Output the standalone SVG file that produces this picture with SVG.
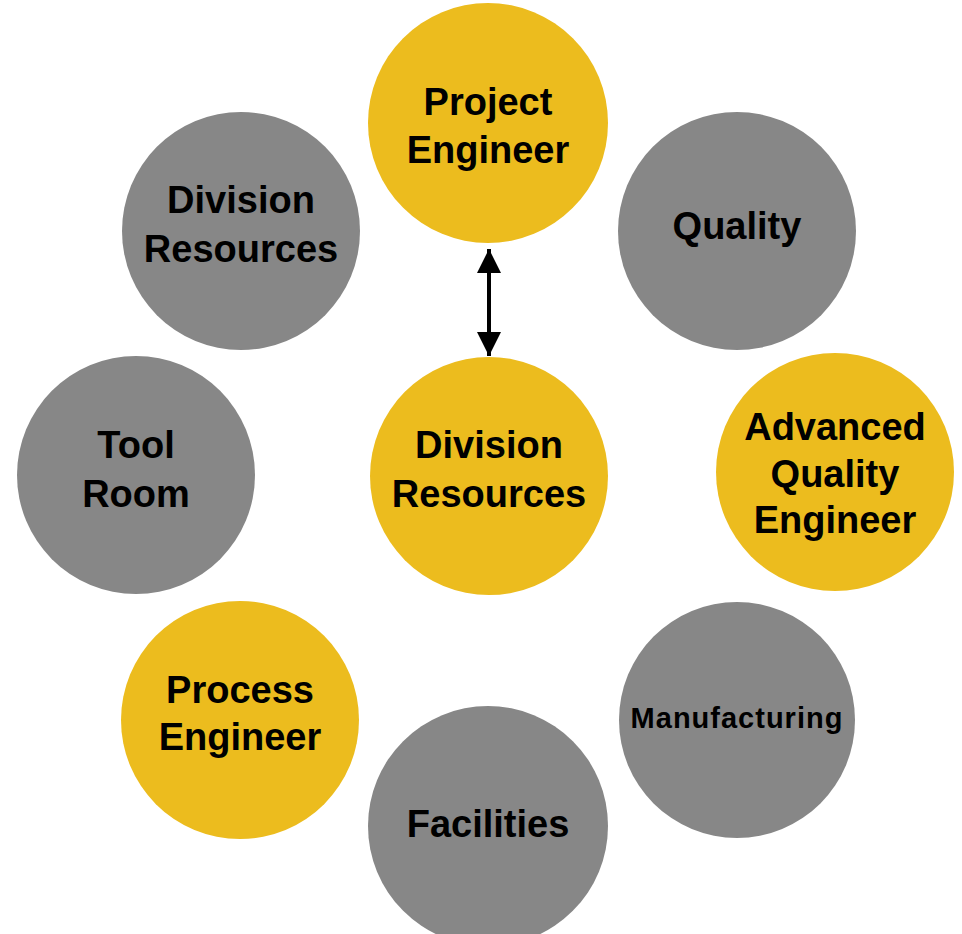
<svg xmlns="http://www.w3.org/2000/svg" width="962" height="934" viewBox="0 0 962 934">
<style>
.y{fill:#ECBC1E}
.g{fill:#878787}
text{font-family:"Liberation Sans",Arial,Helvetica,sans-serif;font-weight:bold;font-size:38px;fill:#000;text-anchor:middle}
.sm{font-size:29px;letter-spacing:1px}
</style>
<defs>
<marker id="ah" viewBox="0 0 10 10" refX="10" refY="5" markerWidth="6" markerHeight="6" markerUnits="strokeWidth" orient="auto-start-reverse">
<path d="M0,0 L10,5 L0,10 Z" fill="#000"/>
</marker>
</defs>
<rect width="962" height="934" fill="#fff"/>
<g id="project-engineer"><circle class="y" cx="488" cy="123" r="120"/><text x="488" y="115">Project</text><text x="488" y="163">Engineer</text></g>
<g id="quality"><circle class="g" cx="737" cy="231" r="119"/><text x="737" y="239">Quality</text></g>
<g id="division-resources-gray"><circle class="g" cx="241" cy="231" r="119"/><text x="241" y="213">Division</text><text x="241" y="262">Resources</text></g>
<g id="tool-room"><circle class="g" cx="136" cy="475" r="119"/><text x="136" y="458">Tool</text><text x="136" y="507">Room</text></g>
<g id="division-resources"><circle class="y" cx="489" cy="476" r="119"/><text x="489" y="458">Division</text><text x="489" y="507">Resources</text></g>
<g id="advanced-quality-engineer"><circle class="y" cx="835" cy="472" r="119"/><text x="835" y="440">Advanced</text><text x="835" y="487">Quality</text><text x="835" y="533">Engineer</text></g>
<g id="process-engineer"><circle class="y" cx="240" cy="720" r="119"/><text x="240" y="703">Process</text><text x="240" y="750">Engineer</text></g>
<g id="manufacturing"><circle class="g" cx="737" cy="720" r="118"/><text class="sm" x="737" y="728">Manufacturing</text></g>
<g id="facilities"><circle class="g" cx="488" cy="826" r="120"/><text x="488" y="837">Facilities</text></g>
<g id="connectors">
<line x1="489" y1="249" x2="489" y2="356" stroke="#000" stroke-width="4" marker-start="url(#ah)" marker-end="url(#ah)"/>
</g>
</svg>
